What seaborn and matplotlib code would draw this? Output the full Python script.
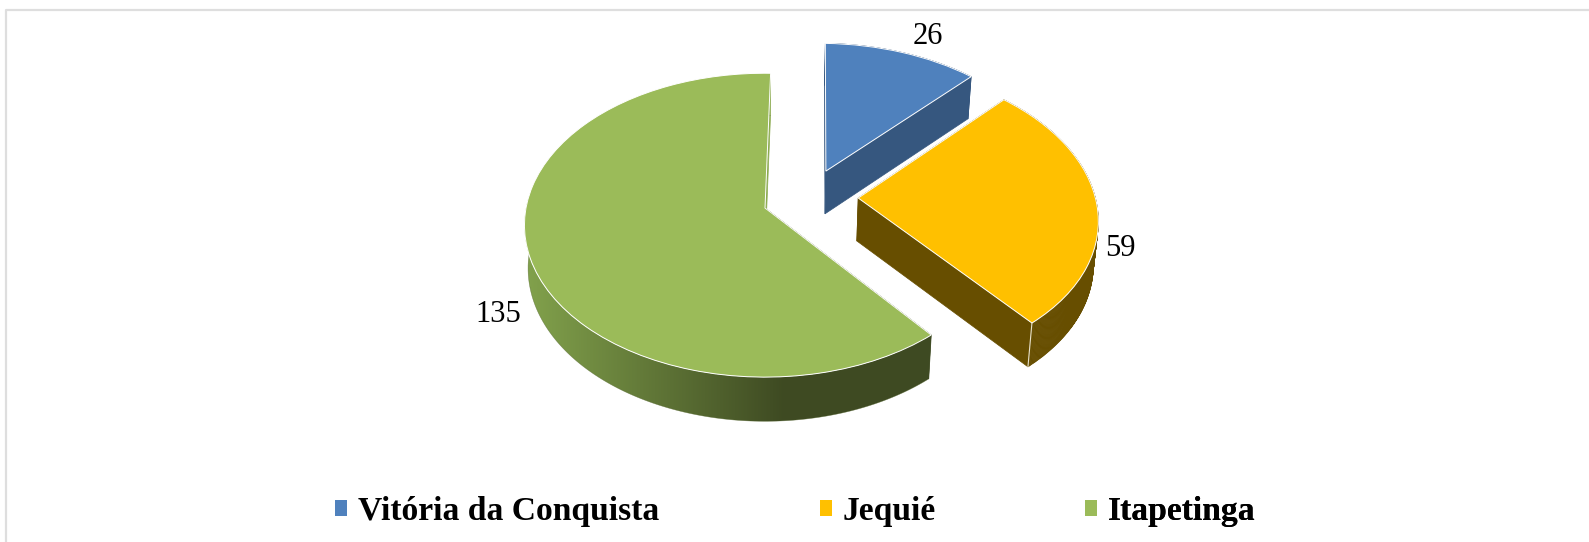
import numpy as np
import matplotlib
matplotlib.use('Agg')
import matplotlib.pyplot as plt
import seaborn as sns
from matplotlib.collections import PolyCollection
from matplotlib.colors import to_rgb
from matplotlib.patches import Patch, Polygon
from matplotlib.transforms import Transform

cities = ['Vitória da Conquista', 'Jequié', 'Itapetinga']
counts = [26, 59, 135]
colors = ['#4F81BD', '#FFC000', '#9BBB59']
wall_colors = ['#36577F', '#674E00', '#3E4A22']

# slice offsets on the disk, and where labels and legend entries sit (pixels)
offsets = [(0.262, 0.253), (0.393, 0.067), (0.0, 0.0)]
label_pos = [(928, 36), (1120, 249), (498, 315)]
legend_x = [335, 820, 1085]


class DiskProjection(Transform):
    # tilted disk with a bit of perspective, output in image pixels
    input_dims = 2
    output_dims = 2

    def __init__(self, cy=208, xscale=1.0, yscale=1.0):
        super().__init__()
        self.cy = cy
        self.xscale = xscale
        self.yscale = yscale

    def transform_non_affine(self, values):
        values = np.asarray(values)
        u, v = values[:, 0], -values[:, 1]
        d = 1 - 0.113 * v
        x = 765 + 239 * self.xscale * u / d
        y = self.cy + 150 * self.yscale * v / d
        return np.column_stack([x, y])


sns.set_theme(style='white')
plt.rcParams['font.family'] = ['Liberation Serif', 'DejaVu Serif']

fig, ax = plt.subplots(figsize=(15.89, 5.42), dpi=100)
fig.subplots_adjust(0, 0, 1, 1)

wedges, _ = ax.pie(counts, colors=sns.color_palette(colors), startangle=88.5,
                   counterclock=False, wedgeprops={'edgecolor': 'white', 'linewidth': 0.7})

top = DiskProjection()
bottom = DiskProjection(cy=251, xscale=0.985, yscale=1.007)

# green first so that the exploded slices lie over it
for i in [2, 1, 0]:
    w = wedges[i]
    off = offsets[i]
    w.set_center(off)
    w.set_transform(top + ax.transData)
    w.set_zorder(2 * (3 - i) + 1)

    # straight wall below the slice edges
    for ang in [w.theta1, w.theta2]:
        rim = (off[0] + np.cos(np.radians(ang)), off[1] + np.sin(np.radians(ang)))
        edge = np.array([off, rim])
        pts = np.vstack([top.transform(edge), bottom.transform(edge)[::-1]])
        # the back edge of the green slice only shows as a pale sliver
        wall = '#8CAB50' if i == 2 and abs(rim[0]) < 0.1 else wall_colors[i]
        ax.add_patch(Polygon(pts, closed=True, fc=wall, ec=wall, lw=0.5, zorder=2 * (3 - i)))

    # curved side, the green one shaded along x
    angs = np.radians(np.linspace(w.theta1, w.theta2, 240))
    ring = np.column_stack([off[0] + np.cos(angs), off[1] + np.sin(angs)])
    upper, lower = top.transform(ring), bottom.transform(ring)
    if i == 2:
        light, dark = np.array(to_rgb('#82A24C')), np.array(to_rgb(wall_colors[2]))
        xs = np.linspace(510, 935, 425)
        shade = np.clip((xs - 525) / (785 - 525), 0, 1)[None, :, None]
        im = ax.imshow(light + (dark - light) * shade, extent=(510, 935, 430, 200),
                       aspect='auto', zorder=2 * (3 - i))
        side = Polygon(np.vstack([upper, lower[::-1]]), closed=True, fc='none', ec='none',
                       transform=ax.transData)
        im.set_clip_path(side)
        ax.plot(lower[:, 0], lower[:, 1], color='#55662F', lw=0.4, alpha=0.6, zorder=2 * (3 - i))
    else:
        quads = [[upper[k], upper[k + 1], lower[k + 1], lower[k]] for k in range(len(angs) - 1)]
        ax.add_collection(PolyCollection(quads, facecolors=wall_colors[i], edgecolors=wall_colors[i],
                                         linewidths=0.5, zorder=2 * (3 - i)))

ax.set_aspect('auto')
ax.set_xlim(0, 1589)
ax.set_ylim(542, 0)
ax.axis('off')

# light seam on the corner of the orange slice
w = wedges[1]
seam = np.array([[offsets[1][0] + np.cos(np.radians(w.theta1)),
                  offsets[1][1] + np.sin(np.radians(w.theta1))]])
ax.plot([top.transform(seam)[0, 0], bottom.transform(seam)[0, 0]],
        [top.transform(seam)[0, 1], bottom.transform(seam)[0, 1]],
        color='#E8E2CC', lw=0.8, zorder=4.5)

for val, (x, y) in zip(counts, label_pos):
    ax.text(x, y, str(val), fontsize=22, color='black', ha='center', va='center', zorder=10)

# chart frame, only the top and left lines are in the picture
ax.plot([6, 6, 1589], [542, 10, 10], color='#DEDEDE', lw=1.6, zorder=0, clip_on=False)

# entries are not evenly spaced in the picture, so one legend per entry
for city, col, x in zip(cities, colors, legend_x):
    leg = ax.legend([Patch(facecolor=col, edgecolor='none')], [city], loc='center left',
                    bbox_to_anchor=(x, 511.5), bbox_transform=ax.transData, frameon=False,
                    prop={'weight': 'bold', 'size': 24.2}, labelcolor='black',
                    handlelength=0.36, handleheight=0.36, handletextpad=0.32,
                    borderpad=0, borderaxespad=0)
    ax.add_artist(leg)

fig.savefig('out.png', dpi=100)
